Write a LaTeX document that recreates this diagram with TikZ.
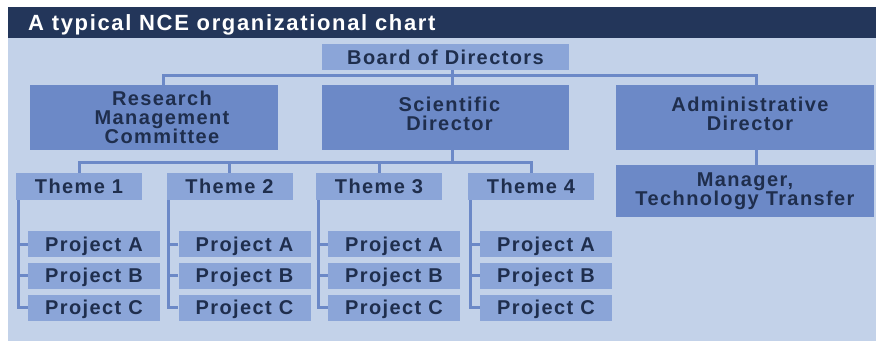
\documentclass[tikz,border=0pt]{standalone}
\usepackage{fontspec}
\setmainfont{Liberation Sans}[LetterSpace=7]
\definecolor{header}{HTML}{23365A}
\definecolor{paper}{HTML}{C3D2E9}
\definecolor{boxlight}{HTML}{8BA5D8}
\definecolor{boxmid}{HTML}{6C89C7}
\definecolor{linec}{HTML}{6C89C7}
\definecolor{ink}{HTML}{1F2E4D}
\begin{document}
\begin{tikzpicture}[x=1pt,y=-1pt,
  every node/.style={inner sep=0pt, align=center, text=ink,
    font=\bfseries\fontsize{20}{19.2}\selectfont},
  lightbox/.style={fill=boxlight, minimum height=26pt},
  themebox/.style={lightbox, minimum width=126pt, minimum height=27pt},
  projbox/.style={lightbox, minimum width=132pt, text height=14pt, text depth=0pt},
  midbox/.style={fill=boxmid, minimum height=65pt},
  link/.style={draw=linec, line width=3pt}]
\useasboundingbox (0,0) rectangle (876,341);
% frame and title band
\fill[paper] (8,38) rectangle (876,341);
\fill[header] (8,7) rectangle (876,38);
\node[anchor=base west, text=white,
  font=\bfseries\addfontfeature{LetterSpace=7.5}\fontsize{22}{24}\selectfont]
  (title) at (28,30) {A typical NCE organizational chart};

% top of the hierarchy
\node[lightbox, minimum width=247pt] (board) at (445.5,57) {Board of Directors};
\node[midbox, minimum width=248pt] (rmc) at (154,117.5) {};
\node at ([xshift=8pt]rmc.center) {Research\\Management\\Committee};
\node[midbox, minimum width=247pt] (sd) at (445.5,117.5) {};
\node at ([yshift=4pt,xshift=4pt]sd.center) {Scientific\\Director};
\node[midbox, minimum width=258pt] (ad) at (745,117.5) {};
\node at ([yshift=4pt,xshift=5pt]ad.center) {Administrative\\Director};
\node[fill=boxmid, minimum width=258pt, minimum height=52pt] (mtt) at (745,191)
  {Manager,\\Technology Transfer};

% themes and their projects
\foreach \i/\x in {1/79, 2/229.5, 3/379, 4/531} {
  \node[themebox] (t\i) at (\x,186.5) {Theme \i};
  \node[projbox] (p\i a) at (\x+15,244) {Project A};
  \node[projbox] (p\i b) at (\x+15,275.5) {Project B};
  \node[projbox] (p\i c) at (\x+15,307.5) {Project C};
  \draw[link] ([xshift=2.5pt]t\i.south west) |- (p\i c.west);
  \draw[link] (p\i a.west) -- ++(-10,0);
  \draw[link] (p\i b.west) -- ++(-10,0);
}

% connectors
\draw[link] ([xshift=6.5pt]board.south) -- ([xshift=6.5pt]sd.north);
\draw[link] ([xshift=9pt]rmc.north) -- ++(0,-9) -| ([xshift=11pt]ad.north);
\draw[link] ([xshift=11pt]ad.south) -- ([xshift=11pt]mtt.north);
\draw[link] ([xshift=6.5pt]sd.south) -- ++(0,13);
\draw[link] (t1.north) -- ++(0,-10) -| (t4.north);
\draw[link] (t2.north) -- ++(0,-10);
\draw[link] (t3.north) -- ++(0,-10);
\end{tikzpicture}
\end{document}
